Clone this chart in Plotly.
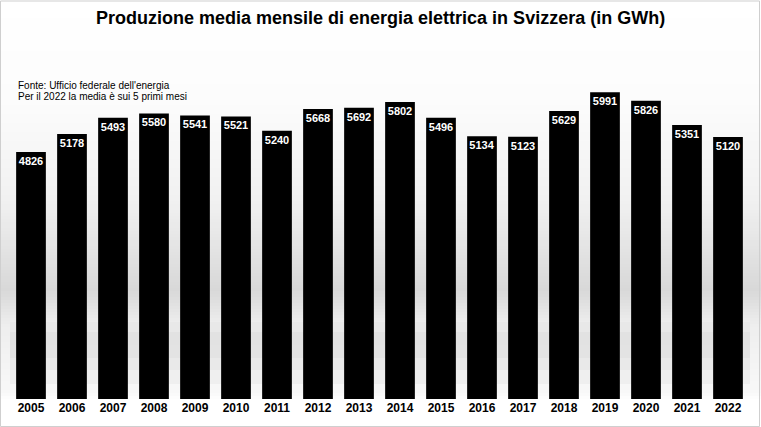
import plotly.graph_objects as go

years = [str(y) for y in range(2005, 2023)]
values = [4826, 5178, 5493, 5580, 5541, 5521, 5240, 5668, 5692, 5802,
          5496, 5134, 5123, 5629, 5991, 5826, 5351, 5120]

title_text = "Produzione media mensile di energia elettrica in Svizzera (in GWh)"
note_lines = ["Fonte: Ufficio federale dell'energia",
              "Per il 2022 la media è sui 5 primi mesi"]

W, H = 761, 427
FONT = "Liberation Sans, Arial, sans-serif"

fig = go.Figure()
fig.add_trace(go.Bar(
    x=years, y=values,
    marker=dict(color="#000000", line=dict(width=0)),
    text=[str(v) for v in values],
    textposition="inside",
    insidetextanchor="end",
    textangle=0,
    constraintext="none",
    textfont=dict(family=FONT, size=11, color="#ffffff", weight="bold"),
    hoverinfo="x+y",
))

# background gradient (pixel y, gray level)
stops = [(0, 255), (100, 252), (200, 241), (290, 216), (325, 238), (392, 248), (400, 255), (427, 255)]
def level(py):
    for (y0, g0), (y1, g1) in zip(stops, stops[1:]):
        if y0 <= py <= y1:
            t = (py - y0) / (y1 - y0) if y1 > y0 else 0
            return g0 + (g1 - g0) * t
    return 255

shapes = []
step = 3
for py in range(0, H, step):
    g = int(round(level(py + step / 2)))
    shapes.append(dict(type="rect", xref="paper", yref="paper",
                       x0=0, x1=1, y0=1 - (py + step) / H, y1=1 - py / H,
                       fillcolor=f"rgb({g},{g},{g})", line=dict(width=0), layer="below"))
# soft reflection band inside the plot area
refl = [(322, 236), (332, 228), (345, 224), (358, 230), (370, 236), (384, 242)]
for (y0, g0), (y1, g1) in zip(refl, refl[1:]):
    g = int(round((g0 + g1) / 2))
    shapes.append(dict(type="rect", xref="paper", yref="paper",
                       x0=10 / W, x1=750 / W, y0=1 - y1 / H, y1=1 - y0 / H,
                       fillcolor=f"rgb({g},{g},{g})", line=dict(width=0), layer="below"))
# border
shapes.append(dict(type="rect", xref="paper", yref="paper", x0=0.5 / W, x1=1 - 1.5 / W,
                   y0=0.5 / H, y1=1 - 1 / H, line=dict(color="#cfcfcf", width=1),
                   fillcolor="rgba(0,0,0,0)", layer="above"))

annotations = [
    dict(text=title_text, xref="paper", yref="paper", x=0.5, y=1 - 18 / H,
         xanchor="center", yanchor="middle", showarrow=False,
         font=dict(family=FONT, size=18, color="#000000", weight="bold")),
]
for i, line in enumerate(note_lines):
    annotations.append(dict(text=line, xref="paper", yref="paper", x=16 / W,
                            y=1 - (85 + 11 * i) / H, xanchor="left", yanchor="middle",
                            showarrow=False,
                            font=dict(family=FONT, size=10, color="#000000")))

fig.update_layout(
    width=W, height=H,
    margin=dict(l=0, r=0, t=0, b=0),
    paper_bgcolor="#ffffff",
    plot_bgcolor="rgba(0,0,0,0)",
    showlegend=False,
    bargap=0.275,
    shapes=shapes,
    annotations=annotations,
    xaxis=dict(domain=[10.5 / W, 748.5 / W], showgrid=False, zeroline=False,
               showline=False, ticks="", type="category",
               tickfont=dict(family=FONT, size=12, color="#000000", weight="bold")),
    yaxis=dict(domain=[(H - 399) / H, (H - 91.9) / H], range=[0, 6000],
               visible=False, showgrid=False, zeroline=False),
)

fig.write_html("out.html",
               config={"displayModeBar": False},
               post_script="document.body.style.margin='0';document.body.style.padding='0';"
                           "document.documentElement.style.overflow='hidden';")
